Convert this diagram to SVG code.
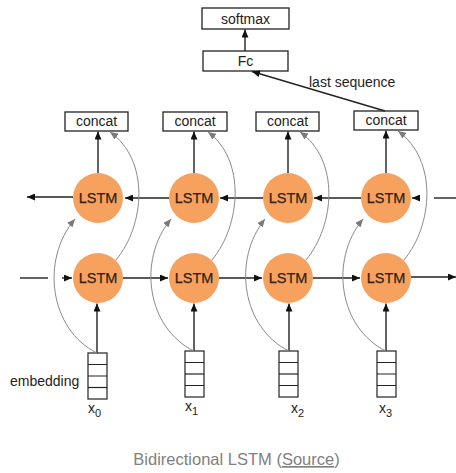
<svg xmlns="http://www.w3.org/2000/svg" width="456" height="473" viewBox="0 0 456 473">
  <style>
    .box { fill: #fff; stroke: #222; stroke-width: 1.3; }
    .lbl { font-family: "Liberation Sans", Arial, sans-serif; font-size: 14px; fill: #222; }
    .mid { text-anchor: middle; }
    .cell { fill: #fff; stroke: #222; stroke-width: 1.2; }
    .lstm { fill: #F6A15E; }
    .lstm-t { font-family: "Liberation Sans", Arial, sans-serif; font-size: 14.5px; fill: #2e2418; text-anchor: middle; stroke: #2e2418; stroke-width: 0.25; }
    .arr { fill: none; stroke: #222; stroke-width: 1.4; marker-end: url(#ah); }
    .line { fill: none; stroke: #222; stroke-width: 1.4; }
    .skip { fill: none; stroke: #8a8a8a; stroke-width: 1; marker-end: url(#gh); }
    .cap { font-family: "Liberation Sans", Arial, sans-serif; font-size: 16.5px; fill: #808080; text-anchor: middle; }
  </style>
  <defs>
    <marker id="ah" markerUnits="userSpaceOnUse" markerWidth="8" markerHeight="7" refX="8" refY="3.5" orient="auto">
      <path d="M0,0 L8,3.5 L0,7 z" fill="#111"/>
    </marker>
    <marker id="gh" markerUnits="userSpaceOnUse" markerWidth="8" markerHeight="7" refX="8" refY="3.5" orient="auto">
      <path d="M0,0 L8,3.5 L0,7 z" fill="#7a7a7a"/>
    </marker>
  </defs>

  <!-- head layers -->
  <g id="softmax">
    <rect class="box" x="202" y="8" width="87" height="21"/>
    <text class="lbl mid" x="245.5" y="23.5">softmax</text>
  </g>
  <g id="fc">
    <rect class="box" x="203" y="51" width="85" height="20"/>
    <text class="lbl mid" x="245.5" y="66">Fc</text>
  </g>

  <!-- concat nodes -->
  <g id="concat0"><rect class="box" x="65" y="112" width="63" height="19"/><text class="lbl mid" x="96.5" y="126">concat</text></g>
  <g id="concat1"><rect class="box" x="163" y="112" width="64" height="19"/><text class="lbl mid" x="195" y="126">concat</text></g>
  <g id="concat2"><rect class="box" x="256" y="112" width="63" height="19"/><text class="lbl mid" x="287.5" y="126">concat</text></g>
  <g id="concat3"><rect class="box" x="354" y="111" width="64" height="19"/><text class="lbl mid" x="386" y="125">concat</text></g>

  <!-- backward LSTM row -->
  <g id="lstm_b0"><circle class="lstm" cx="98" cy="198" r="25"/><text class="lstm-t" x="98" y="203">LSTM</text></g>
  <g id="lstm_b1"><circle class="lstm" cx="194" cy="198" r="25"/><text class="lstm-t" x="194" y="203">LSTM</text></g>
  <g id="lstm_b2"><circle class="lstm" cx="288" cy="198" r="25"/><text class="lstm-t" x="288" y="203">LSTM</text></g>
  <g id="lstm_b3"><circle class="lstm" cx="386" cy="198" r="25"/><text class="lstm-t" x="386" y="203">LSTM</text></g>

  <!-- forward LSTM row -->
  <g id="lstm_f0"><circle class="lstm" cx="98" cy="278" r="25"/><text class="lstm-t" x="98" y="283">LSTM</text></g>
  <g id="lstm_f1"><circle class="lstm" cx="194" cy="278" r="25"/><text class="lstm-t" x="194" y="283">LSTM</text></g>
  <g id="lstm_f2"><circle class="lstm" cx="288" cy="278" r="25"/><text class="lstm-t" x="288" y="283">LSTM</text></g>
  <g id="lstm_f3"><circle class="lstm" cx="386" cy="278" r="25"/><text class="lstm-t" x="386" y="283">LSTM</text></g>

  <!-- embedding vectors -->
  <g id="emb0">
    <rect class="cell" x="88" y="353" width="19" height="46"/>
    <path class="cell" d="M88,364.5 H107 M88,376 H107"/>
    <path class="cell" d="M88,387.5 H107" stroke-width="2.2"/>
    <text class="lbl" x="10" y="386">embedding</text>
    <text class="lbl" x="88" y="413">x<tspan font-size="11" dy="4">0</tspan></text>
  </g>
  <g id="emb1">
    <rect class="cell" x="185" y="351" width="19" height="46"/>
    <path class="cell" d="M185,362.5 H204 M185,385.5 H204"/>
    <path class="cell" d="M185,374 H204" stroke-width="2.2"/>
    <text class="lbl" x="185" y="411">x<tspan font-size="11" dy="4">1</tspan></text>
  </g>
  <g id="emb2">
    <rect class="cell" x="279" y="351" width="19" height="46"/>
    <path class="cell" d="M279,362.5 H298 M279,385.5 H298"/>
    <path class="cell" d="M279,374 H298" stroke-width="2"/>
    <text class="lbl" x="291" y="413">x<tspan font-size="11" dy="4">2</tspan></text>
  </g>
  <g id="emb3">
    <rect class="cell" x="377" y="351" width="19" height="46"/>
    <path class="cell" d="M377,362.5 H396 M377,374 H396 M377,385.5 H396"/>
    <text class="lbl" x="379" y="413">x<tspan font-size="11" dy="4">3</tspan></text>
  </g>

  <!-- connectors -->
  <g id="connectors">
    <!-- head -->
    <path class="arr" d="M245,51 V29.5"/>
    <path class="arr" d="M385,111 L252,71.5"/>
    <text class="lbl" x="309" y="87">last sequence</text>

    <!-- backward row, right to left -->
    <path class="line" d="M456,198 H434"/>
    <path class="arr" d="M420,198 H412"/>
    <path class="arr" d="M361,198 H314"/>
    <path class="arr" d="M263,198 H220"/>
    <path class="arr" d="M169,198 H125"/>
    <path class="arr" d="M73,197 H27"/>

    <!-- forward row, left to right -->
    <path class="line" d="M20,278 H48"/>
    <path class="arr" d="M62,278 H72"/>
    <path class="arr" d="M123,278 H168"/>
    <path class="arr" d="M219,278 H262"/>
    <path class="arr" d="M313,278 H360"/>
    <path class="arr" d="M411,277 H456"/>

    <!-- backward state up to concat -->
    <path class="arr" d="M98,173 V131.5"/>
    <path class="arr" d="M194,173 V131.5"/>
    <path class="arr" d="M288,173 V131.5"/>
    <path class="arr" d="M386,173 V130.5"/>

    <!-- embeddings into forward row -->
    <path class="arr" d="M97,353 V303.5"/>
    <path class="arr" d="M194,351 V303.5"/>
    <path class="arr" d="M289,351 V303.5"/>
    <path class="arr" d="M386,351 V303.5"/>

    <!-- embeddings into backward row -->
    <path class="skip" d="M97,353 C50,330 40,260 75,219"/>
    <path class="skip" d="M194,351 C147,328 137,260 171,219"/>
    <path class="skip" d="M289,351 C242,328 232,260 265,219"/>
    <path class="skip" d="M386,351 C339,328 329,260 363,219"/>

    <!-- forward state up to concat -->
    <path class="skip" d="M116,260 C145,225 150,160 110,132"/>
    <path class="skip" d="M212,260 C241,225 246,160 208,132"/>
    <path class="skip" d="M306,260 C335,225 340,160 300,132"/>
    <path class="skip" d="M404,260 C433,225 438,160 398,131"/>
  </g>

  <text class="cap" x="236.5" y="465">Bidirectional LSTM (<tspan text-decoration="underline">Source</tspan>)</text>
</svg>
